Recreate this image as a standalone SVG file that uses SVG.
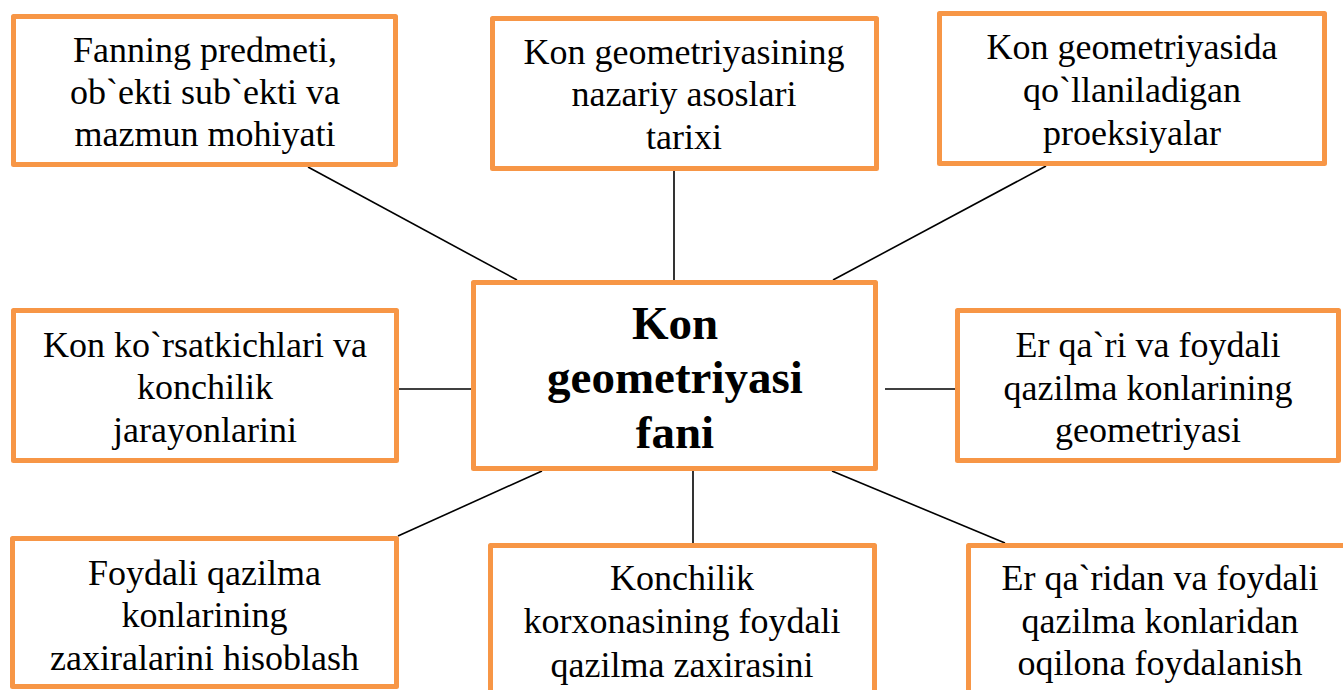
<svg xmlns="http://www.w3.org/2000/svg" width="1343" height="690" viewBox="0 0 1343 690">
<style>
.box{fill:#fff;stroke:#F79646;stroke-width:5;stroke-linejoin:round}
.ln{stroke:#000;stroke-width:1.6;fill:none}
</style>
<rect width="1343" height="690" fill="#fff"/>
<g id="connectors">
<line class="ln" x1="308" y1="167" x2="517" y2="280"/>
<line class="ln" x1="674" y1="171" x2="674" y2="280"/>
<line class="ln" x1="1046" y1="166" x2="833" y2="280"/>
<line class="ln" x1="399" y1="389" x2="471" y2="389"/>
<line class="ln" x1="885" y1="389" x2="955" y2="389"/>
<line class="ln" x1="542" y1="471" x2="398" y2="536"/>
<line class="ln" x1="693" y1="471" x2="693" y2="543"/>
<line class="ln" x1="832" y1="471" x2="1005" y2="543"/>
</g>
<g font-family="Liberation Serif, Times New Roman, serif" fill="#000" text-anchor="middle" font-size="36">
<g id="center">
<rect class="box" x="473.5" y="282.5" width="402" height="186"/>
<text font-size="47" font-weight="bold" x="675" y="339">Kon</text>
<text font-size="47" font-weight="bold" x="675" y="393">geometriyasi</text>
<text font-size="47" font-weight="bold" x="675" y="448">fani</text>
</g>
<g id="n-top-left">
<rect class="box" x="13.5" y="16.5" width="382" height="148"/>
<text x="205" y="62">Fanning predmeti,</text>
<text x="205" y="104">ob`ekti sub`ekti va</text>
<text x="205" y="146">mazmun mohiyati</text>
</g>
<g id="n-top-center">
<rect class="box" x="492.5" y="18.5" width="384" height="150"/>
<text x="684" y="64">Kon geometriyasining</text>
<text x="684" y="106">nazariy asoslari</text>
<text x="684" y="149">tarixi</text>
</g>
<g id="n-top-right">
<rect class="box" x="939.5" y="13.5" width="385" height="150"/>
<text x="1132" y="59">Kon geometriyasida</text>
<text x="1132" y="102">qo`llaniladigan</text>
<text x="1132" y="145">proeksiyalar</text>
</g>
<g id="n-mid-left">
<rect class="box" x="13.5" y="310.5" width="383" height="150"/>
<text x="205" y="357">Kon ko`rsatkichlari va</text>
<text x="205" y="399">konchilik</text>
<text x="205" y="442">jarayonlarini</text>
</g>
<g id="n-mid-right">
<rect class="box" x="957.5" y="310.5" width="381" height="150"/>
<text x="1148" y="357">Er qa`ri va foydali</text>
<text x="1148" y="400">qazilma konlarining</text>
<text x="1148" y="442">geometriyasi</text>
</g>
<g id="n-bottom-left">
<rect class="box" x="12.5" y="538.5" width="384" height="148"/>
<text x="204.5" y="585">Foydali qazilma</text>
<text x="204.5" y="627">konlarining</text>
<text x="204.5" y="670">zaxiralarini hisoblash</text>
</g>
<g id="n-bottom-center">
<rect class="box" x="490.5" y="545.5" width="384" height="160"/>
<text x="682" y="590">Konchilik</text>
<text x="682" y="633">korxonasining foydali</text>
<text x="682" y="677">qazilma zaxirasini</text>
</g>
<g id="n-bottom-right">
<rect class="box" x="968.5" y="545.5" width="390" height="160"/>
<text x="1160" y="590">Er qa`ridan va foydali</text>
<text x="1160" y="633">qazilma konlaridan</text>
<text x="1160" y="675">oqilona foydalanish</text>
</g>
</g>
</svg>
